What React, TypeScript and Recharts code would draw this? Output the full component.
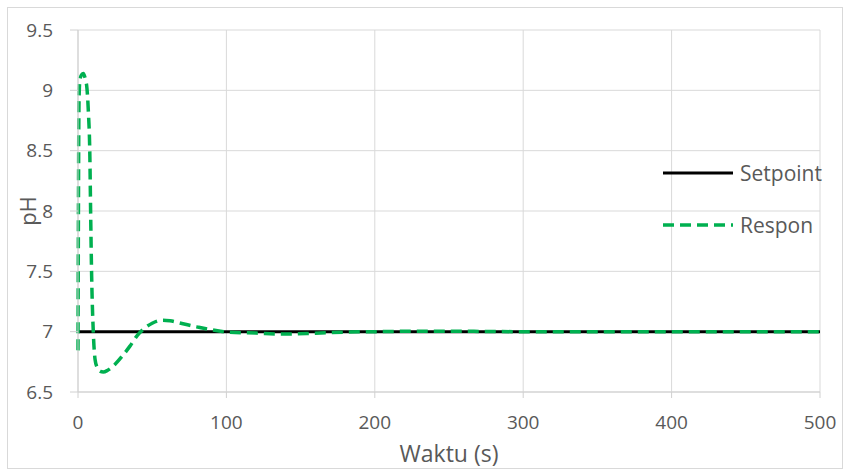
import React from "react";
import { LineChart, Line, XAxis, YAxis, CartesianGrid } from "recharts";

// Time samples (s) and measured pH response
const TIME = [
  0, 0.7, 1.3, 2.5, 3.6, 5, 6, 7, 8, 8.5, 9.2, 10.3, 11.5, 13, 15, 17, 20, 25, 30, 35,
  40, 45, 50, 57, 62, 70, 80, 90, 100, 120, 140, 160, 180, 200, 230, 260, 300, 400, 500,
];
const RESPON = [
  6.845, 8.92, 9.09, 9.13, 9.14, 9.09, 9.02, 8.82, 8.45, 8.0, 7.46, 7.0, 6.77, 6.7, 6.67,
  6.665, 6.68, 6.73, 6.8, 6.88, 6.97, 7.03, 7.07, 7.095, 7.09, 7.068, 7.04, 7.015, 6.998,
  6.988, 6.98, 6.987, 6.996, 7.0, 7.004, 7.003, 7.0, 7.0, 7.0,
];
const SETPOINT = 7;

const X_TICKS = [0, 100, 200, 300, 400, 500];
const Y_TICKS = [6.5, 7, 7.5, 8, 8.5, 9, 9.5];

const data = TIME.map((t, i) => ({ t, setpoint: SETPOINT, respon: RESPON[i] }));

const FONT = "'Open Sans', sans-serif";
const TEXT = "#595959";
const GRID = "#d9d9d9";
const AXIS = "#d0d0d0";
const GREEN = "#00b050";
const DASH = "11 6";

const LEGEND_ITEMS = [
  { name: "Setpoint", color: "#000", width: 3, dash: undefined as string | undefined },
  { name: "Respon", color: GREEN, width: 3.5, dash: DASH },
];

function LegendBox() {
  return (
    <svg
      width={190}
      height={100}
      style={{ position: "absolute", left: 655, top: 150, overflow: "visible" }}
    >
      {LEGEND_ITEMS.map((it, i) => {
        const y = 23 + i * 52;
        return (
          <g key={it.name}>
            <line
              x1={8}
              x2={78}
              y1={y}
              y2={y}
              stroke={it.color}
              strokeWidth={it.width}
              strokeDasharray={it.dash}
            />
            <text
              x={85}
              y={y}
              dominantBaseline="central"
              fill={TEXT}
              fontFamily={FONT}
              fontSize={21}
            >
              {it.name}
            </text>
          </g>
        );
      })}
    </svg>
  );
}

export default function App() {
  return (
    <div style={{ position: "absolute", left: 0, top: 0, width: 845, height: 472, background: "#fff" }}>
      <div
        style={{
          position: "absolute",
          left: 7,
          top: 7,
          width: 836,
          height: 462,
          border: `1px solid ${GRID}`,
          boxSizing: "border-box",
        }}
      />
      <LineChart
        width={845}
        height={472}
        data={data}
        margin={{ top: 30, right: 25, left: 0, bottom: 0 }}
        style={{ position: "absolute", left: 0, top: 0 }}
      >
        <CartesianGrid stroke={GRID} strokeWidth={1} />
        <XAxis
          type="number"
          dataKey="t"
          domain={[0, 500]}
          ticks={X_TICKS}
          height={80}
          tickSize={6}
          tickMargin={18}
          axisLine={{ stroke: AXIS }}
          tickLine={{ stroke: AXIS }}
          tick={{ fill: TEXT, fontSize: 19, fontFamily: FONT }}
          label={{
            content: (p: any) => {
              const vb = p.viewBox || {};
              return (
                <text
                  x={vb.x + vb.width / 2}
                  y={vb.y + 70}
                  textAnchor="middle"
                  fill={TEXT}
                  fontFamily={FONT}
                  fontSize={23}
                >
                  Waktu (s)
                </text>
              );
            },
          }}
        />
        <YAxis
          type="number"
          domain={[6.5, 9.5]}
          ticks={Y_TICKS}
          width={78}
          tickSize={8}
          tickMargin={17}
          axisLine={{ stroke: AXIS }}
          tickLine={{ stroke: AXIS }}
          tick={{ fill: TEXT, fontSize: 19, fontFamily: FONT }}
          label={{
            content: (p: any) => {
              const vb = p.viewBox || {};
              const cx = vb.x + 27;
              const cy = vb.y + vb.height / 2;
              return (
                <text
                  x={cx}
                  y={cy}
                  textAnchor="middle"
                  dominantBaseline="central"
                  transform={`rotate(-90 ${cx} ${cy})`}
                  fill={TEXT}
                  fontFamily={FONT}
                  fontSize={22}
                >
                  pH
                </text>
              );
            },
          }}
        />
        <Line
          dataKey="setpoint"
          name="Setpoint"
          type="linear"
          stroke="#000"
          strokeWidth={3}
          dot={false}
          isAnimationActive={false}
        />
        <Line
          dataKey="respon"
          name="Respon"
          type="monotone"
          stroke={GREEN}
          strokeWidth={3.5}
          strokeDasharray={DASH}
          dot={false}
          isAnimationActive={false}
        />
      </LineChart>
      <LegendBox />
    </div>
  );
}
